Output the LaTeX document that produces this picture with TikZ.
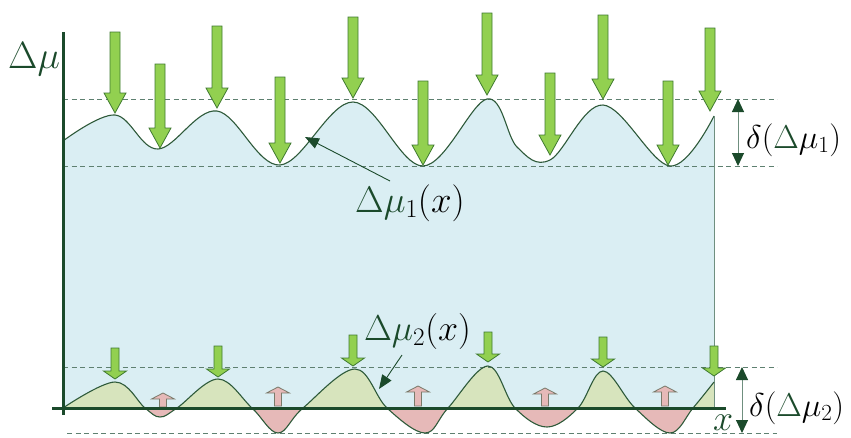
\RequirePackage{fix-cm}
\documentclass[tikz,border=0pt]{standalone}
\usetikzlibrary{arrows.meta}
\definecolor{dg}{HTML}{1B4A2B}
\definecolor{curvec}{HTML}{2E5A3A}
\definecolor{bluef}{HTML}{DAEEF3}
\definecolor{arrf}{HTML}{92D050}
\definecolor{arrd}{HTML}{3F7A30}
\definecolor{olivef}{HTML}{D7E4BD}
\definecolor{pinkf}{HTML}{E6B9B8}
\definecolor{pinkd}{HTML}{7A7A6A}
\definecolor{dashc}{HTML}{5E8070}
\definecolor{edgec}{HTML}{6F8F7F}
\newcommand{\bigdown}[3]{\draw[bigarrow] (#1-5,#2) -- (#1+5,#2) -- (#1+5,#3-20) -- (#1+11,#3-20) -- (#1,#3) -- (#1-11,#3-20) -- (#1-5,#3-20) -- cycle;}
\newcommand{\smalldown}[3]{\draw[bigarrow] (#1-4,#2) -- (#1+4,#2) -- (#1+4,#3-8) -- (#1+11.5,#3-8) -- (#1,#3) -- (#1-11.5,#3-8) -- (#1-4,#3-8) -- cycle;}
\newcommand{\pinkup}[3]{\draw[pinkarrow] (#1-3.5,#2) -- (#1+3.5,#2) -- (#1+3.5,#3+6) -- (#1+11.5,#3+6) -- (#1,#3) -- (#1-11.5,#3+6) -- (#1-3.5,#3+6) -- cycle;}
\begin{document}
\begin{tikzpicture}[x=1pt,y=-1pt,
  bigarrow/.style={fill=arrf,draw=arrd,line width=0.8pt,line join=miter},
  pinkarrow/.style={fill=pinkf,draw=pinkd,line width=0.8pt},
  dashline/.style={dashc,line width=0.9pt,dash pattern=on 5pt off 3.5pt},
  curveline/.style={curvec,line width=1.1pt},
  axisline/.style={dg,line width=3pt},
  annot/.style={dg,line width=0.9pt,-{Triangle[length=14pt,width=11pt]}},
  dbl/.style={edgec,line width=1pt,{Triangle[length=13pt,width=12pt,color=dg]}-{Triangle[length=13pt,width=12pt,color=dg]}},
  lbl/.style={inner sep=0pt,anchor=base west}]
\useasboundingbox (0,0) rectangle (851,437);
% blue region
\fill[bluef] plot[smooth,tension=0.6] coordinates{(63,141) (115,115) (158,149) (217,111) (280,165) (353,102) (423,166) (487,99) (517,147) (550,160) (603,105) (670,166) (714,116)} -- (714,408) -- (63,408) -- cycle;
% bottom fills
\begin{scope}
\clip (0,0) rectangle (851,408);
\fill[olivef] plot[smooth,tension=0.6] coordinates{(63,408) (115,382) (145,408) (160,417) (177,408) (218,379) (252,408) (278,433) (303,408) (355,369) (387,408) (425,433) (448,408) (488,366) (515,408) (547,427) (578,408) (603,371) (635,408) (670,433) (693,408) (714,382)} -- (714,408) -- cycle;
\end{scope}
\begin{scope}
\clip (0,408) rectangle (851,437);
\fill[pinkf] plot[smooth,tension=0.6] coordinates{(63,408) (115,382) (145,408) (160,417) (177,408) (218,379) (252,408) (278,433) (303,408) (355,369) (387,408) (425,433) (448,408) (488,366) (515,408) (547,427) (578,408) (603,371) (635,408) (670,433) (693,408) (714,382)} -- (714,408) -- cycle;
\end{scope}
% dashed lines
\draw[dashline] (63,99) -- (777,99);
\draw[dashline] (63,166) -- (777,166);
\draw[dashline] (63,367) -- (777,367);
\draw[dashline] (67,433) -- (777,433);
% curves
\draw[curveline] plot[smooth,tension=0.6] coordinates{(63,141) (115,115) (158,149) (217,111) (280,165) (353,102) (423,166) (487,99) (517,147) (550,160) (603,105) (670,166) (714,116)};
\draw[edgec,line width=1pt] (714,116) -- (714,408);
\draw[curveline] plot[smooth,tension=0.6] coordinates{(63,408) (115,382) (145,408) (160,417) (177,408) (218,379) (252,408) (278,433) (303,408) (355,369) (387,408) (425,433) (448,408) (488,366) (515,408) (547,427) (578,408) (603,371) (635,408) (670,433) (693,408) (714,382)};
% pink arrows
\pinkup{163}{407}{393}
\pinkup{278}{406}{387}
\pinkup{418}{406}{386}
\pinkup{545}{406}{388}
\pinkup{665}{406}{386}
% axes
\coordinate (yaxtop) at (63,32);
\coordinate (yaxbot) at (63,415);
\coordinate (xaxl) at (52,408);
\coordinate (xaxr) at (726,408);
\draw[axisline] (yaxtop) -- (yaxbot);
\draw[axisline] (xaxl) -- (xaxr);
% big green arrows
\bigdown{115}{32}{113}
\bigdown{160}{64}{148}
\bigdown{217}{26}{108}
\bigdown{280}{77}{163}
\bigdown{353}{17}{98}
\bigdown{423}{81}{165}
\bigdown{487}{13}{95}
\bigdown{550}{73}{155}
\bigdown{603}{15}{99}
\bigdown{668}{81}{165}
\bigdown{710}{28}{111}
% small green arrows
\smalldown{115}{348}{379}
\smalldown{218}{346}{377}
\smalldown{353}{335}{366}
\smalldown{488}{332}{362}
\smalldown{603}{337}{367}
\smalldown{714}{346}{376}
% labels
\node[lbl] (ylab) at (8,68) {\fontsize{38}{42}\selectfont\color{dg}$\Delta\mu$};
\node[lbl] (mu1) at (355,212) {\fontsize{37}{40}\selectfont${\color{dg}\Delta\mu}_1(x)$};
\node[lbl] (mu2) at (364,340) {\fontsize{36}{38}\selectfont${\color{dg}\Delta\mu}_2(x)$};
\node[lbl] (d1) at (746,148) {\fontsize{33}{36}\selectfont$\delta({\color{dg}\Delta}\mu_{1})$};
\node[lbl] (d2) at (749,416) {\fontsize{33}{36}\selectfont$\delta({\color{dg}\Delta}\mu_{2})$};
\node[lbl] (xlab) at (713,430) {\fontsize{36}{40}\selectfont\color{dg}$x$};
% annotation arrows
\coordinate (a1s) at (390,181);
\coordinate (a1e) at (305,137);
\coordinate (a2s) at (402,355);
\coordinate (a2e) at (379,389);
\draw[annot] (a1s) -- (a1e);
\draw[annot] (a2s) -- (a2e);
% delta arrows
\coordinate (d1t) at (738,99);
\coordinate (d1b) at (738,166);
\coordinate (d2t) at (742,367);
\coordinate (d2b) at (742,433);
\draw[dbl] (d1t) -- (d1b);
\draw[dbl] (d2t) -- (d2b);
\end{tikzpicture}
\end{document}
